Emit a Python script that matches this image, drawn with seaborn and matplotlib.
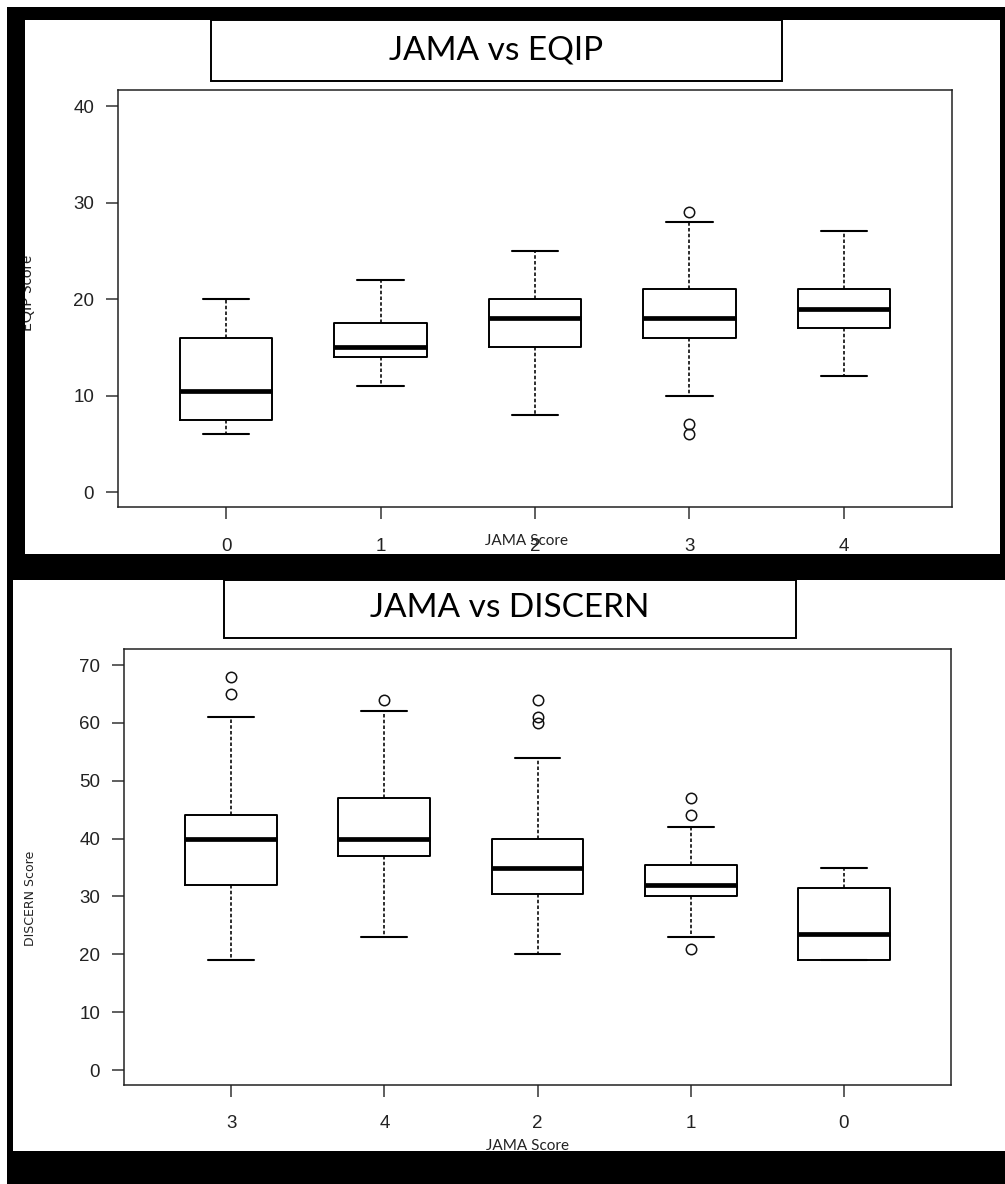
import matplotlib
matplotlib.use("Agg")
import matplotlib.pyplot as plt
from matplotlib.patches import Rectangle
import seaborn as sns
import pandas as pd

# ---- data ----
eqip_order = ["0", "1", "2", "3", "4"]
eqip_j0 = [6, 7.5, 10.5, 16, 20]
eqip_j1 = [11, 14, 15, 17.5, 22]
eqip_j2 = [8, 15, 18, 20, 25]
eqip_j3 = [6, 7, 10, 16, 17, 17, 18, 19, 20, 21, 21, 28, 29]
eqip_j4 = [12, 17, 19, 21, 27]

discern_order = ["3", "4", "2", "1", "0"]
discern_j3 = [19, 20, 25, 32, 35, 38, 40, 41, 43, 44, 61, 65, 68]
discern_j4 = [23, 30, 37, 38, 40, 42, 47, 62, 64]
discern_j2 = [20, 25, 28, 30, 30.5, 32, 33, 34, 35, 36, 38, 39, 40, 54, 60, 61, 64]
discern_j1 = [21, 23, 28, 30, 31, 31.5, 32, 33, 34, 35.5, 42, 44, 47]
discern_j0 = [19, 19, 23.5, 31.5, 35]

eqip_ticks = [0, 10, 20, 30, 40]
discern_ticks = [0, 10, 20, 30, 40, 50, 60, 70]


def long_df(groups):
    rows = []
    for name, vals in groups.items():
        for v in vals:
            rows.append({"jama": name, "score": v})
    return pd.DataFrame(rows)


df_eqip = long_df({"0": eqip_j0, "1": eqip_j1, "2": eqip_j2, "3": eqip_j3, "4": eqip_j4})
df_discern = long_df({"3": discern_j3, "4": discern_j4, "2": discern_j2, "1": discern_j1, "0": discern_j0})

# ---- figure ----
sns.set_style("white")
W, H = 1005, 1184
fig = plt.figure(figsize=(W / 100, H / 100), dpi=100)
fig.patch.set_facecolor("white")


def frect(x0, y0, x1, y1, **kw):
    r = Rectangle((x0 / W, 1 - y1 / H), (x1 - x0) / W, (y1 - y0) / H,
                  transform=fig.transFigure, **kw)
    fig.patches.append(r)
    return r


def ftext(x, y, s, **kw):
    return fig.text(x / W, 1 - y / H, s, **kw)


def axes_px(l, t, r, b):
    ax = fig.add_axes([l / W, 1 - b / H, (r - l) / W, (b - t) / H])
    ax.set_zorder(1)
    return ax


# black background frame and white panels
frect(7, 7, 1005, 1184, facecolor="black", edgecolor="none", zorder=-2)
frect(25, 20, 1000, 554, facecolor="white", edgecolor="none", zorder=-1)
frect(13, 580, 1005, 1151, facecolor="white", edgecolor="none", zorder=-1)

tick_font = {"family": ["Liberation Sans", "DejaVu Sans"], "size": 13.5}

box_kw = dict(
    fill=False, color="black", linecolor="#111111", linewidth=1.4, width=0.6,
    whis=1.5, fliersize=7.5,
    medianprops=dict(linewidth=3.4, color="black"),
    whiskerprops=dict(linestyle=(0, (2.2, 1.4)), linewidth=1.15),
    capprops=dict(linewidth=1.5),
    flierprops=dict(marker="o", markerfacecolor="none", markeredgecolor="#111111",
                    markeredgewidth=1.1),
)


def style_axes(ax, ticks, ylim, xpad):
    ax.set_xlim(-0.7, 4.7)
    ax.set_ylim(*ylim)
    ax.set_yticks(ticks)
    ax.set_xlabel("")
    ax.set_ylabel("")
    ax.set_facecolor("white")
    for sp in ax.spines.values():
        sp.set_visible(True)
        sp.set_color("#222222")
        sp.set_linewidth(1.1)
    ax.tick_params(axis="both", direction="out", length=8.6, width=1.1,
                   color="#333333", labelcolor="#222222",
                   bottom=True, left=True, top=False, right=False)
    ax.tick_params(axis="y", pad=8.6)
    ax.tick_params(axis="x", pad=xpad)
    for lab in ax.get_xticklabels() + ax.get_yticklabels():
        lab.set_fontfamily(tick_font["family"])
        lab.set_fontsize(tick_font["size"])


# top panel: JAMA vs EQIP
ax1 = axes_px(118, 90, 952, 507)
sns.boxplot(data=df_eqip, x="jama", y="score", order=eqip_order, ax=ax1, **box_kw)
style_axes(ax1, eqip_ticks, (-1.55, 41.66), 13.5)

# bottom panel: JAMA vs DISCERN
ax2 = axes_px(124, 649, 951, 1085)
sns.boxplot(data=df_discern, x="jama", y="score", order=discern_order, ax=ax2, **box_kw)
style_axes(ax2, discern_ticks, (-2.59, 72.77), 13.2)

# title boxes
frect(211, 20, 782, 81, facecolor="white", edgecolor="black", linewidth=1.4, zorder=2)
frect(224, 580, 796, 638, facecolor="white", edgecolor="black", linewidth=1.4, zorder=2)
title_font = ["Lato", "DejaVu Sans"]
ftext(496, 51, "JAMA vs EQIP", ha="center", va="center", fontsize=24,
      family=title_font, color="black", zorder=3)
ftext(510, 608, "JAMA vs DISCERN", ha="center", va="center", fontsize=24,
      family=title_font, color="black", zorder=3)

# axis labels
ftext(526, 541, "JAMA Score", ha="center", va="center", fontsize=11,
      family=title_font, color="#222222", zorder=3)
ftext(527, 1146, "JAMA Score", ha="center", va="center", fontsize=11,
      family=title_font, color="#222222", zorder=3)
ftext(28, 293, "EQIP Score", ha="center", va="center", rotation=90, fontsize=11,
      family=title_font, color="#222222", zorder=1.5)
ftext(30, 898, "DISCERN Score", ha="center", va="center", rotation=90, fontsize=9,
      family=["DejaVu Sans"], color="#222222", zorder=3)

# black strip partially covering the EQIP label, as in the reference
frect(7, 7, 25, 554, facecolor="black", edgecolor="none", zorder=4)

fig.savefig("out.png", dpi=100, facecolor=fig.get_facecolor())
